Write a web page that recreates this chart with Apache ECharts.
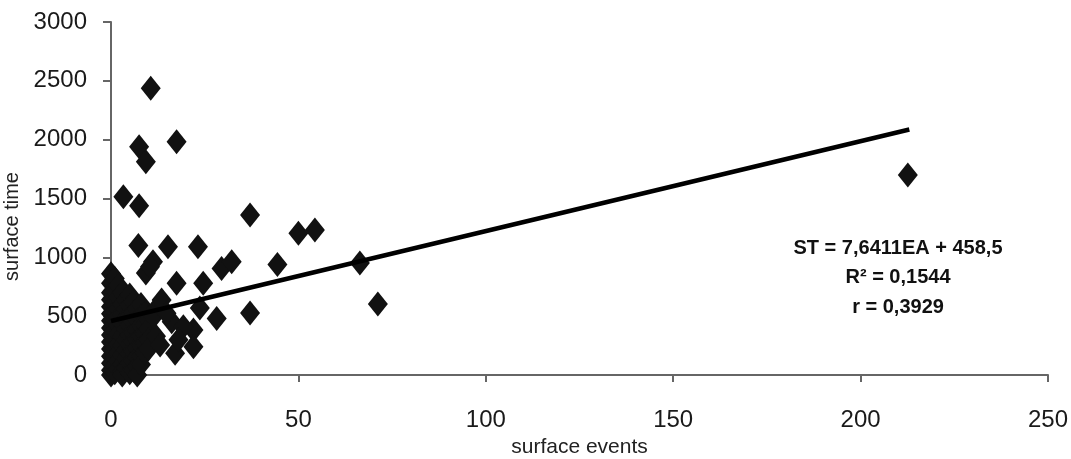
<!DOCTYPE html>
<html>
<head>
<meta charset="utf-8">
<script src="https://cdn.jsdelivr.net/npm/echarts@6/dist/echarts.min.js"></script>
<style>
html,body{margin:0;padding:0;background:#fff;}
#chart{width:1071px;height:459px;}
</style>
</head>
<body>
<div id="chart"></div>
<script>
// ---- data ----
const xTicks = [0, 50, 100, 150, 200, 250];
const yTicks = [0, 500, 1000, 1500, 2000, 2500, 3000];
const xAxisTitle = 'surface events';
const yAxisTitle = 'surface time';

// scattered points (surface events, surface time)
const outlierEvents = [212.6, 66.4, 71.2, 37.1, 37.1, 44.4, 50.0, 54.4, 10.6, 7.5, 9.3, 17.5, 3.3, 7.5, 7.3, 11.2, 9.3, 15.2, 23.2, 17.5, 24.6, 29.5, 32.2, 28.2, 23.7, 22.0, 22.0, 17.1, 13.1, 16.2, 19.3, 13.5, 11.3, 14.8, 10.4, 18.0];
const outlierTimes  = [1699, 952, 603, 1359, 527, 940, 1204, 1232, 2438, 1940, 1812, 1982, 1514, 1438, 1100, 963, 867, 1090, 1090, 779, 779, 906, 963, 481, 569, 382, 241, 184, 255, 453, 410, 637, 495, 524, 920, 300];

// dense cluster near the origin
const clusterEvents = [
  0,0,0,0,0,0,0,0,0,0,0,0,0,0,0,
  1,1,1,1,1,1,1,1,1,1,1,
  2,2,2,2,2,2,2,2,2,2,
  3,3,3,3,3,3,3,3,3,3,
  4,4,4,4,4,4,4,4,
  5,5,5,5,5,5,5,5,5,
  6,6,6,6,6,6,6,6,
  7,7,7,7,7,7,7,7,
  8,8,8,8,8,8,8,
  9,9,9,9,9,
  10,10,10,10,
  12,12
];
const clusterTimes = [
  860,780,700,640,580,520,460,400,340,280,220,160,100,40,0,
  820,720,610,540,470,380,300,230,150,80,20,
  760,660,560,490,420,350,260,190,120,50,
  700,600,510,440,330,250,170,90,30,0,
  640,560,480,390,300,210,140,60,
  680,590,500,420,340,260,180,100,20,
  620,530,450,360,280,200,120,40,
  560,470,380,300,230,150,70,0,
  600,500,420,330,250,160,90,
  520,430,350,270,190,
  470,390,300,220,
  560,330
];

// regression line ST = 7.6411 EA + 458.5
const trendSlope = 7.6411;
const trendIntercept = 458.5;
const trendEvents = [0, 213];

const annotationLines = ['ST = 7,6411EA + 458,5', 'R² = 0,1544', 'r = 0,3929'];

// ---- chart ----
const FONT = "'Liberation Sans','Arial',sans-serif";
const points = [];
clusterEvents.forEach((x, i) => points.push([x, clusterTimes[i]]));
outlierEvents.forEach((x, i) => points.push([x, outlierTimes[i]]));
const trend = trendEvents.map(x => [x, trendSlope * x + trendIntercept]);

const chart = echarts.init(document.getElementById('chart'), null, {renderer: 'canvas'});
chart.setOption({
  animation: false,
  backgroundColor: '#ffffff',
  grid: {left: 111, right: 23, top: 22, bottom: 84, containLabel: false, outerBoundsMode: 'none'},
  xAxis: {
    type: 'value', min: xTicks[0], max: xTicks[xTicks.length - 1], interval: 50,
    name: xAxisTitle, nameLocation: 'middle', nameGap: 62,
    nameTextStyle: {fontFamily: FONT, fontSize: 21, color: '#222', letterSpacing: -1},
    axisLine: {show: true, lineStyle: {color: '#666', width: 2}},
    axisTick: {show: true, length: 7, lineStyle: {color: '#666', width: 2}},
    axisLabel: {fontFamily: FONT, fontSize: 24, color: '#1a1a1a', margin: 33, formatter: v => String(v)},
    splitLine: {show: false}
  },
  yAxis: {
    type: 'value', min: yTicks[0], max: yTicks[yTicks.length - 1], interval: 500,
    name: yAxisTitle, nameLocation: 'middle', nameGap: 75,
    nameTextStyle: {fontFamily: FONT, fontSize: 20, color: '#222', padding: [0, 56, 0, 0]},
    axisLine: {show: true, lineStyle: {color: '#666', width: 2}},
    axisTick: {show: true, length: 8, lineStyle: {color: '#666', width: 2}},
    axisLabel: {fontFamily: FONT, fontSize: 24, color: '#1a1a1a', margin: 24, formatter: v => String(v)},
    splitLine: {show: false}
  },
  series: [
    {
      type: 'scatter', data: points, symbol: 'diamond', symbolSize: [20, 25],
      itemStyle: {color: '#111', opacity: 1}, z: 2
    },
    {
      type: 'line', data: trend, symbol: 'none', z: 3,
      lineStyle: {color: '#000', width: 4.5}
    }
  ],
  graphic: annotationLines.map((t, i) => ({
    type: 'text', x: 898, y: 248 + i * 29.5, z: 10,
    style: {text: t, fontFamily: FONT, fontSize: 20, fontWeight: 'bold', fill: '#111',
            textAlign: 'center', textVerticalAlign: 'middle', align: 'center', verticalAlign: 'middle'}
  }))
});
</script>
</body>
</html>
